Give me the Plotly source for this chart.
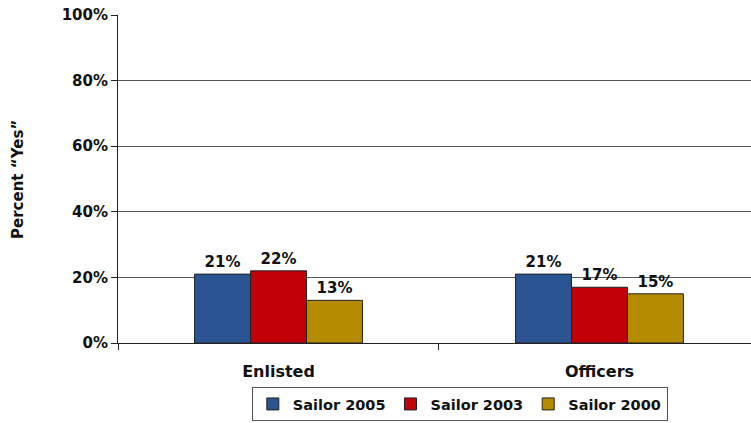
import plotly.graph_objects as go

categories = ["Enlisted", "Officers"]
series_names = ["Sailor 2005", "Sailor 2003", "Sailor 2000"]
sailor_2005 = [21, 21]
sailor_2003 = [22, 17]
sailor_2000 = [13, 15]
colors = ["#2B5592", "#C20008", "#B58C00"]
y_ticks = [0, 20, 40, 60, 80, 100]

FONT = "DejaVu Sans"

fig = go.Figure()
for name, vals, col in zip(series_names, [sailor_2005, sailor_2003, sailor_2000], colors):
    fig.add_trace(go.Bar(
        x=categories, y=vals, name=name,
        marker=dict(color=col, line=dict(color="#222222", width=1)),
        text=[f"{v}%" for v in vals], textposition="outside",
        textfont=dict(family=FONT, size=15, color="#111111", weight="bold"),
        cliponaxis=False,
    ))

fig.update_layout(
    width=751, height=423,
    margin=dict(l=118, r=0, t=15, b=80, autoexpand=False),
    paper_bgcolor="white", plot_bgcolor="white",
    barmode="group", bargap=0.477, bargroupgap=0,
    font=dict(family=FONT, size=13, color="#111111"),
    showlegend=True,
    legend=dict(
        orientation="h", x=0.54, xanchor="center", y=-0.2378, yanchor="bottom",
        bordercolor="#555555", borderwidth=1,
        font=dict(family=FONT, size=14.5, color="#111111", weight="bold"),
        itemwidth=30, tracegroupgap=0, traceorder="normal",
    ),
    xaxis=dict(
        automargin=False,
        range=[-0.5, 1.472],
        showline=True, linecolor="#222222", linewidth=1,
        ticks="outside", tickson="boundaries", ticklen=6, tickcolor="#222222",
        tickfont=dict(family=FONT, size=16, color="#111111", weight="bold"),
        ticklabelstandoff=14,
        showgrid=False,
    ),
    yaxis=dict(
        automargin=False,
        range=[0, 100], tickvals=y_ticks, ticktext=[f"{t}%" for t in y_ticks],
        showline=True, linecolor="#222222", linewidth=1,
        ticks="outside", ticklen=6, tickcolor="#222222",
        showgrid=True, gridcolor="#555555", gridwidth=1,
        tickfont=dict(family=FONT, size=15, color="#111111", weight="bold"),
        zeroline=False,
    ),
    annotations=[dict(
        text="Percent “Yes”", textangle=-90, showarrow=False,
        xref="paper", yref="paper", x=-0.158, y=0.5, xanchor="center", yanchor="middle",
        font=dict(family=FONT, size=15, color="#111111", weight="bold"),
    )],
)

fig.write_html("out.html", config={"displayModeBar": False},
               post_script="document.body.style.margin='0';")
